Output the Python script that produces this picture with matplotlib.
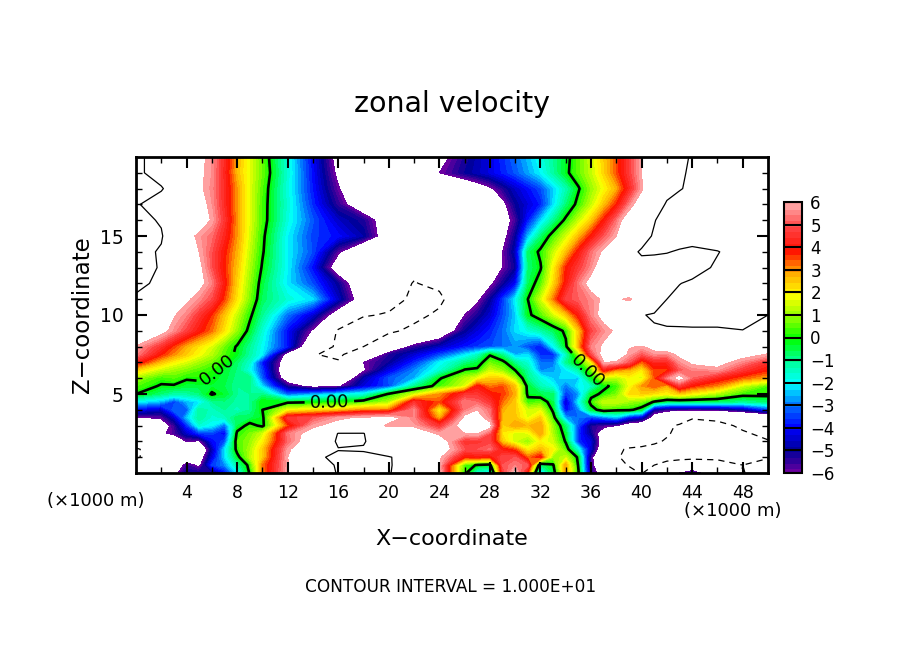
import matplotlib
matplotlib.use('Agg')
import matplotlib.pyplot as plt
import numpy as np
from matplotlib.colors import LinearSegmentedColormap

x_km = [0,2,4,6,8,10,12,14,16,18,20,22,24,26,28,30,32,34,36,38,40,42,44,46,48,50]
z_km = [20,19,18,17,16,15,14,13,12,11,10,9,8,7.5,7,6.5,6,5.5,5,4.5,4,3.5,3,2.5,2,1.5,1,.5,0]

# zonal velocity, top row first. beyond +-6 is white
u_rows = [
[10.5,9,7.5,5.7,2.8,.6,-1.7,-4,-6.6,-8,-9,-9,-6.5,-5.2,-4.2,-3,-1.7,-.3,1.5,3.5,6,8,10.3,11,11.5,11],
[10.5,9,7.5,5.7,2.7,.7,-1.6,-3.9,-6.3,-8,-9,-9,-6,-5,-4.2,-3.2,-2,-.2,1.4,3.5,6,9,10.3,11,11.5,11],
[11,10.2,8,5.6,3,.5,-1.7,-3.8,-5.9,-7.5,-9,-9.5,-9,-7.5,-6.2,-4.5,-3.3,-1.3,1,2.8,5.8,9.4,10.3,11,11.5,11],
[10.2,9,7.5,5.7,3,.4,-1.6,-3.6,-5.4,-7.2,-9,-9.5,-9.5,-9,-8,-5,-3.7,-.8,1.4,3.8,7,10.2,11,11.5,11.5,11],
[11,9.7,7.5,5.9,3,.4,-1.7,-3.2,-4.5,-5.2,-7,-9,-9.5,-9,-8,-5.6,-2.3,.2,2.5,5.3,8.8,10.8,11.5,11.5,11.5,11],
[11.5,10.3,6.4,5.3,3,.2,-2,-3.4,-3.9,-4.8,-7,-9,-9.5,-9,-8.3,-5,-.8,1.5,3.9,6,9.3,11,11,11.5,11.5,11],
[11,9.7,7,5,2.8,.1,-2,-3.3,-5.8,-8,-9,-9.5,-9.5,-9,-7.5,-4.6,.2,2.6,5.3,7.5,10.2,10.1,9.5,9.9,11,11],
[11,9.8,7.5,5,2.6,-.1,-2,-3.9,-7,-8.5,-9,-9.5,-9.5,-9,-7,-5,-.1,3.8,5.6,8.5,9.4,9,9.2,10.3,11,11],
[10.8,9.3,7.5,5.5,2.4,-.4,-2.1,-3.3,-5,-7.5,-9,-10.1,-9.5,-8,-6.3,-4,.5,4,6.5,8,9,9.6,10.3,10.8,11,11],
[9.5,8,6.2,4.9,2.2,-.6,-1.6,-2.2,-4.5,-7,-9.6,-10.2,-10.5,-8,-5,-2,1.5,4.8,5.6,6.3,7,10,11,11,11,11],
[8,6.8,5.5,3.7,1.4,-1,-3,-4.4,-7,-9.9,-10.1,-10.6,-9.6,-6,-4.4,-2.3,.5,2.5,5.5,7.5,9.9,10.5,11,11,10.8,10],
[8,6.5,4.8,3.3,1,-1.6,-3.9,-6.2,-10.3,-10.8,-10.4,-9.5,-7.5,-5,-3.7,-2.2,-1.2,.2,4.8,6.2,9.8,9.8,9.7,9.7,9.95,9.9],
[5.9,4.5,2.8,1.6,-.1,-1.9,-3.8,-8,-10.5,-10,-8,-5.5,-4.6,-3.8,-3.3,-2.7,-3.8,-.2,5.5,6.5,5.9,7,8,8,8,7],
[5.5,3.8,2.5,1.3,-.2,-2,-6.8,-9.9,-10.4,-8.5,-5.3,-4.4,-3.4,-2.2,-.1,-2.5,-3.6,-1.5,4.8,7,5,5.5,7,7.2,6.5,5.9],
[4.2,2.6,1.6,.7,-.7,-3.8,-7,-9.5,-9.8,-6,-5,-3.6,-2,-.9,.7,-1,-3,-1,1.8,5.9,3.3,4.3,6.2,6.5,5.5,4.5],
[2.4,1.4,.8,.2,-.8,-3.4,-7.5,-9,-8,-6.2,-4.2,-2.8,-1.6,.1,1.5,0,-2.8,-2.1,.7,3,2.1,3.6,5.5,5.7,4.6,3.8],
[1.1,.3,.1,-.1,-.9,-3.2,-7,-8,-8,-4.8,-3.2,-2.5,-.1,1.2,2.5,1.2,-1.7,-2.2,-.3,1.2,1.6,5.4,5.2,4.2,3.4,2.8],
[.5,-.1,-.4,-.3,-1,-2.2,-5.3,-6.5,-6.2,-4.3,-3.3,-1,.4,1.6,3.2,2.6,-1.3,-3,-1.5,.3,3,2.8,3.8,3.1,1.5,.5],
[0,-.8,-1.1,.1,-1,-.9,-3.2,-2.7,-2.2,-1.8,.1,1.5,3,4.5,4,2.8,-.5,-3.5,-.3,.8,2.5,2,2,1.2,.3,.3],
[-2,-2.5,-2.5,-1,-1.1,0,-.2,-.1,-.05,.4,1.2,4.5,3.5,5.5,4.6,2.5,.6,-4.5,.3,1.5,.8,-.7,-.7,-.7,-1,-.8],
[-4,-4.5,-3.2,-1.4,-1.4,0,1.8,2.2,2.5,3.1,3.2,5.6,1.9,5.4,5.3,2.5,1.7,-4,-.4,.2,-.4,-5.6,-5.8,-5.7,-5,-3.5],
[-6.2,-5.8,-2.4,-1.6,-.6,-.2,4.6,5,5.8,6.2,6.5,5.5,2.8,6.3,5.5,2.6,2.5,-2.6,-3.5,-2.5,-4.5,-8,-9.9,-9.6,-9,-8.5],
[-8,-7,-3.6,-2,-.5,-.2,3.5,5.8,6.5,7,5.8,5.8,4.5,6.8,6.5,3,3,-.8,-5.3,-6,-7.5,-9.7,-10.5,-10.5,-9.7,-9.3],
[-9,-6.2,-4.5,-3.4,.2,1.5,5.4,6.5,10.1,10.1,7,7,5.8,6,5,1.6,3,-.4,-5,-8,-9.5,-9.8,-11,-11,-10.2,-9.6],
[-9,-8,-6,-4,.5,2,5.2,7,10.4,10.2,8,7.5,6.8,4.5,4.8,1.5,2,-.1,-4.3,-8.5,-9,-10.2,-11.5,-11.5,-11,-10.1],
[-10.2,-9,-8,-4.8,.3,2.5,5.8,7.5,9.9,9.8,8,7,6.8,5,5.3,3.5,2.7,.5,-4.5,-9.7,-10.5,-11,-11,-11,-11,-10.5],
[-10.2,-9,-7.5,-4.3,-.3,2.5,6,9.5,10.5,10.5,10.2,8.5,6.2,3.8,3.7,5,4,1.5,-5.6,-9.8,-11,-10.5,-10.5,-10.5,-10.5,-10.1],
[-8.5,-8,-5.5,-3.5,-1.2,3.2,5.9,8.5,10.3,10.6,10.3,8,6,.5,-.3,5.5,-.8,3,-5.5,-9.5,-10.5,-9.5,-8.5,-9,-10,-9.5],
[-9,-7.5,-5,-5.5,-2.1,3.2,6,8,10.2,10.5,10.2,8,6.2,.3,-2,6.5,-2.5,3,-5.2,-8,-10.1,-8,-5,-8,-10.1,-9],
]

# odd x columns where the field changes fast, same z order as z_km
u_x3 = [8.2,8.2,9,8.2,8.6,7.7,8.3,8.6,8.4,7.1,6.1,5.6,3.6,3.1,2,1.1,.5,-.1,-1.2,-3.4,-3,-4.5,-5.5,-5.7,-8,-9,-9,-7.5,-6.5]
u_x5 = [6.3,6.2,6.2,6.5,6.8,5.8,6,6.3,6.4,5.6,4.6,4,2.2,1.9,1.1,.5,.2,-.4,-.8,-2.1,-1,-1,-1.6,-3.5,-6.2,-8,-7,-6.3,-5]
u_x7 = [4.4,4.3,4.4,4.4,4.6,4.3,3.9,3.8,4,3.6,2.6,2.2,.7,.5,.1,-.3,-.4,-.5,-.3,-.8,-1,-1.4,-3,-4,-3.3,-2.2,-2.2,-2.8,-4]
u_x9 = [1.7,1.7,1.7,1.7,1.7,1.6,1.4,1.2,1,.8,.2,-.3,-1,-1.1,-1.5,-1.8,-.8,-.9,-1,-1,-1,-.6,.3,.8,1,1.2,1.3,.3,.1]
u_x27 = [-4.7,-4.6,-6.9,-8.5,-8.5,-8.6,-8.2,-8,-7,-6.3,-5.2,-4.3,-3.5,-1.5,-.5,.2,1.8,4,4.6,5.2,6,6.5,6.8,6.1,4.6,5,4,-.1,-1.8]
u_x29 = [-3.6,-3.7,-5.3,-6.4,-6.7,-6.5,-6,-6,-5.1,-3.5,-3.3,-3,-3,-1,.3,1,2.4,3.5,3.7,3.3,2.8,2.7,2.4,2.2,2.5,4,5,5,4.5]
u_x31 = [-2.4,-2.6,-3.9,-4.3,-3.8,-2.5,-.7,-.8,-.6,0,-.2,-1.7,-3.3,-2.2,-1.6,-1.1,-.9,-.3,-.2,.3,1.5,1.7,2.7,1.7,1,2,3.3,5,3.5]
u_x33 = [-1,-1.1,-2.3,-2.2,-1,.4,1.4,2,2.3,3.2,1.5,-.6,-2,-3.6,-3,-2.6,-2.3,-1.8,-.7,-.5,-.2,.4,1,1.2,1.5,2,1,-.1,-.5]
u_x35 = [.6,.6,-.1,.3,1.4,2.7,4,4.7,5.4,5.2,4,2.5,2.8,1,.1,-1.2,-2.3,-2,-2.7,-2,-2.8,-3,-3.3,-3.6,-3.6,-1.8,-.2,-.1,.1]
u_x37 = [2.5,2.4,1.9,2.6,3.9,5,6.2,7,7.2,6.2,6.5,5.6,6.2,6.5,6,4,1.5,-.2,.2,1.5,.5,-3,-5.7,-7,-7,-7.5,-8.5,-8,-7]
u_x39 = [4.7,4.7,4.3,5.4,7,8,9.5,9,8.5,5.7,8.8,8,6.1,5.8,5,2.8,1.9,1.8,2.3,1.1,.2,-4,-7,-9,-9,-10.2,-10.5,-10.1,-9.5]
u_x41 = [7,7.5,8.3,9,9.9,10.2,10.2,9.2,9.3,8.5,10.2,9.8,6.5,5.6,4.3,3.6,3.5,3.5,2.2,-.1,-5,-7,-8.7,-9.6,-9.7,-10.6,-10.8,-10,-9]
u_x43 = [9.2,9.7,9.9,10.6,11,11,9.8,9.1,9.95,10.5,10.7,9.75,8,6.3,5.6,5,6.6,4.6,2.5,-.7,-5.7,-9,-10.2,-10.5,-11,-11,-10.5,-9,-6]

x_major = [4,8,12,16,20,24,28,32,36,40,44,48]
z_major = [5,10,15]
cbar_ticks = [-6,-5,-4,-3,-2,-1,0,1,2,3,4,5,6]

W, H = 904, 654

x_odd = [3,5,7,9,27,29,31,33,35,37,39,41,43]
u_odd = [u_x3,u_x5,u_x7,u_x9,u_x27,u_x29,u_x31,u_x33,u_x35,u_x37,u_x39,u_x41,u_x43]
x_all = np.array(x_km + x_odd, dtype=float)
u_all = np.column_stack([np.array(u_rows)] + [np.array(c) for c in u_odd])
order = np.argsort(x_all)
x_all = x_all[order]
u = u_all[:, order]

anchors = [(-6,'#6a00a0'),(-5.5,'#30009a'),(-5,'#00009a'),(-4,'#0000ff'),(-3,'#0070ff'),
           (-2,'#00ffff'),(-1,'#00ff99'),(0,'#00ff00'),(1,'#90ff00'),(2,'#ffff00'),
           (3,'#ffa800'),(4,'#ff1000'),(5,'#ff4040'),(6,'#ffa0a0')]
cmap = LinearSegmentedColormap.from_list('ncl', [((v+6)/12., c) for v, c in anchors], N=48)
levels = np.arange(-6, 6.01, 0.25)

fig = plt.figure(figsize=(W/100., H/100.), dpi=100)
ax = fig.add_axes([136./W, 1-473./H, (768-136.)/W, (473-157.)/H])

cf = ax.contourf(x_all, z_km, u, levels=levels, cmap=cmap, antialiased=False)
ax.contour(x_all, z_km, u, levels=[10], colors='k', linewidths=0.9)
ax.contour(x_all, z_km, u, levels=[-10], colors='k', linewidths=0.9, linestyles=[(0, (5, 4))])
cs = ax.contour(x_all, z_km, u, levels=[0], colors='k', linewidths=1.9)
ax.clabel(cs, fmt='%.2f', fontsize=13, manual=[(6.4, 6.6), (15.3, 4.4), (35.7, 6.4)])

ax.set_xlim(0, 50)
ax.set_ylim(0, 20)
ax.set_xticks(x_major)
ax.set_xticklabels([str(v) for v in x_major], fontsize=12.5)
ax.set_xticks(np.arange(2, 50, 4), minor=True)
ax.set_yticks(z_major)
ax.set_yticklabels([str(v) for v in z_major], fontsize=13.5)
ax.set_yticks(np.arange(1, 20, 1), minor=True)
ax.tick_params(axis='x', which='major', direction='in', length=8, width=1.5, top=True, pad=8)
ax.tick_params(axis='y', which='major', direction='in', length=8, width=1.5, right=True, pad=9)
ax.tick_params(which='minor', direction='in', length=4, width=1, top=True, right=True)
for s in ax.spines.values():
    s.set_linewidth(2)

def put(px, py, txt, **kw):
    fig.text(px/W, 1-py/H, txt, ha=kw.pop('ha', 'center'), va='center', **kw)

put(452, 104, 'zonal velocity', fontsize=20.5)
put(83, 315, 'Z\u2212coordinate', fontsize=16.5, rotation=90)
put(452, 539, 'X\u2212coordinate', fontsize=16)
put(451, 587, 'CONTOUR INTERVAL = 1.000E+01', fontsize=12.2)
put(96, 501, '(\u00d71000 m)', fontsize=13)
put(733, 511, '(\u00d71000 m)', fontsize=13)

cax = fig.add_axes([784./W, 1-473./H, (802-784.)/W, (473-202.)/H])
cb = fig.colorbar(cf, cax=cax, ticks=cbar_ticks)
cb.ax.tick_params(length=0, labelsize=12, pad=6)
cb.outline.set_linewidth(1.5)
cb.solids.set_edgecolor('face')
cax.hlines(cbar_ticks, -6, 6, colors='k', linewidths=1.5)

fig.savefig('out.png', dpi=100)
